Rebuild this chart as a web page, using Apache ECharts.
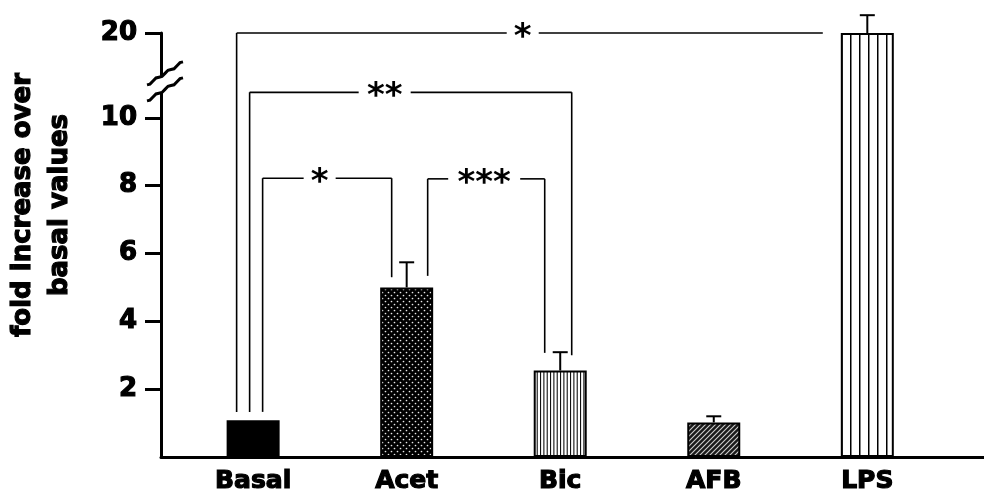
<!DOCTYPE html>
<html><head><meta charset="utf-8">
<script src="https://cdn.jsdelivr.net/npm/echarts@6/dist/echarts.min.js"></script>
<style>html,body{margin:0;padding:0;background:#fff}#c{width:984px;height:495px}</style>
</head><body><div id="c"></div>
<script>
// ---- data ----
const categories = ['Basal', 'Acet', 'Bic', 'AFB', 'LPS'];
const foldValues = [1.08, 5.0, 2.55, 1.02, 20];
const semValues  = [0, 0.74, 0.54, 0.18, 2.1];
const yTickValues = [2, 4, 6, 8, 10, 20];
// significance brackets: from category, to category, bracket level, label, left leg end, right leg end
const bracketFrom  = [0, 0, 0, 1];
const bracketTo    = [4, 2, 1, 2];
const bracketLevel = [20, 13.0, 8.22, 8.2];
const bracketLabel = ['*', '**', '*', '***'];
const bracketLeftEnd  = [1.33, 1.33, 1.33, 5.34];
const bracketRightEnd = [null, 3.0, 5.3, 3.07];

// broken axis: values above 10 compressed by factor 0.25 (20 sits at 12.5)
const BREAK_AT = 10, BREAK_FACTOR = 0.25;
function toDisplay(v) { return v <= BREAK_AT ? v : BREAK_AT + (v - BREAK_AT) * BREAK_FACTOR; }
function fromDisplay(d) { return d <= BREAK_AT ? d : BREAK_AT + (d - BREAK_AT) / BREAK_FACTOR; }

// ---- layout (pixel offsets of bracket legs relative to bar centres) ----
const bracketLayout = [
  { l: -16.5, r: -44.5, star: -7 },
  { l: -3.5, r: 11.5, star: -26 },
  { l: 9.5, r: -15, star: -7.5 },
  { l: 21, r: -15.5, star: -2 }
];

// ---- fill patterns ----
function makePattern(w, h, draw) {
  const c = document.createElement('canvas');
  c.width = w; c.height = h;
  const g = c.getContext('2d');
  draw(g, w, h);
  return { image: c, repeat: 'repeat' };
}
const patterns = [
  '#000',
  makePattern(6, 6, (g, w, h) => {
    g.fillStyle = '#000'; g.fillRect(0, 0, w, h);
    g.fillStyle = '#e8e8e8';
    g.beginPath(); g.arc(1.5, 1.5, 0.85, 0, Math.PI * 2); g.fill();
    g.beginPath(); g.arc(4.5, 4.5, 0.85, 0, Math.PI * 2); g.fill();
  }),
  makePattern(10, 4, (g, w, h) => {
    g.fillStyle = '#fff'; g.fillRect(0, 0, w, h);
    g.fillStyle = '#111';
    [0, 3.33, 6.67].forEach(x => g.fillRect(x, 0, 1.1, h));
  }),
  makePattern(5, 5, (g, w, h) => {
    g.fillStyle = '#1a1a1a'; g.fillRect(0, 0, w, h);
    g.strokeStyle = '#cfcfcf'; g.lineWidth = 1.1;
    g.beginPath();
    g.moveTo(-1, 6); g.lineTo(6, -1);
    g.moveTo(-1, 1); g.lineTo(1, -1);
    g.moveTo(4, 6); g.lineTo(6, 4);
    g.stroke();
  }),
  makePattern(9, 4, (g, w, h) => {
    g.fillStyle = '#fff'; g.fillRect(0, 0, w, h);
    g.fillStyle = '#000';
    g.fillRect(4, 0, 1.5, h);
  })
];

const chart = echarts.init(document.getElementById('c'), null, { renderer: 'canvas' });

const heavy = { textBorderColor: '#000', textBorderWidth: 1.2 };

const option = {
  animation: false,
  backgroundColor: '#fff',
  grid: { left: 161, right: 0, top: 33, bottom: 38, containLabel: false },
  xAxis: {
    type: 'value', min: -0.6, max: 4.76,
    splitLine: { show: false },
    axisLine: { show: true, onZero: false, lineStyle: { color: '#000', width: 3 } },
    axisTick: { show: false },
    axisLabel: Object.assign({
      customValues: categories.map((c, i) => i),
      formatter: v => categories[Math.round(v)] || '',
      color: '#000', fontFamily: 'DejaVu Sans', fontWeight: 'bold', fontSize: 25, margin: 12
    }, heavy)
  },
  yAxis: {
    type: 'value', min: 0, max: toDisplay(20),
    splitLine: { show: false },
    axisLine: { show: true, onZero: false, lineStyle: { color: '#000', width: 3 } },
    axisTick: { show: true, customValues: yTickValues.map(toDisplay), length: 16, lineStyle: { color: '#000', width: 3 } },
    axisLabel: Object.assign({
      customValues: yTickValues.map(toDisplay),
      formatter: v => String(Math.round(fromDisplay(v))),
      color: '#000', fontFamily: 'DejaVu Sans', fontWeight: 'bold', fontSize: 26, margin: 24
    }, heavy)
  },
  graphic: [{
    type: 'text', x: 42, y: 205, rotation: Math.PI / 2,
    style: {
      text: 'fold increase over\nbasal values',
      font: 'bold 26px "DejaVu Sans"', align: 'center', verticalAlign: 'middle',
      lineHeight: 37, fill: '#000', stroke: '#000', lineWidth: 1.2
    }
  }],
  series: [
    {
      type: 'bar', barWidth: 53, z: 2,
      itemStyle: { borderColor: '#000', borderWidth: 2 },
      data: foldValues.map((v, i) => ({ value: [i, toDisplay(v)], itemStyle: { color: patterns[i] } }))
    },
    {
      type: 'custom', z: 3, clip: false,
      data: foldValues.map((v, i) => [i, toDisplay(v), toDisplay(v + semValues[i]), semValues[i]]),
      renderItem: (params, api) => {
        if (!api.value(3)) return null;
        const base = api.coord([api.value(0), api.value(1)]);
        const top = api.coord([api.value(0), api.value(2)]);
        const st = { stroke: '#000', lineWidth: 2 };
        return {
          type: 'group', children: [
            { type: 'line', shape: { x1: base[0], y1: base[1], x2: top[0], y2: top[1] }, style: st },
            { type: 'line', shape: { x1: top[0] - 7.5, y1: top[1], x2: top[0] + 7.5, y2: top[1] }, style: st }
          ]
        };
      }
    },
    {
      type: 'custom', z: 4, clip: false,
      data: bracketFrom.map((f, i) => [f, toDisplay(bracketLevel[i]), bracketTo[i], i]),
      renderItem: (params, api) => {
        const i = params.dataIndex, L = bracketLayout[i];
        const y = api.coord([0, toDisplay(bracketLevel[i])])[1];
        const xl = api.coord([bracketFrom[i], 0])[0] + L.l;
        const xr = api.coord([bracketTo[i], 0])[0] + L.r;
        const xm = (xl + xr) / 2 + L.star;
        const gap = bracketLabel[i].length * 10 + 6;
        const st = { stroke: '#000', lineWidth: 1.6 };
        const ch = [
          { type: 'line', shape: { x1: xl, y1: y, x2: xm - gap, y2: y }, style: st },
          { type: 'line', shape: { x1: xm + gap, y1: y, x2: xr, y2: y }, style: st },
          { type: 'text', style: { text: bracketLabel[i], x: xm, y: y + 5, font: 'bold 34px "DejaVu Sans"',
              align: 'center', verticalAlign: 'middle', textAlign: 'center', textVerticalAlign: 'middle',
              fill: '#000' } }
        ];
        if (bracketLeftEnd[i] != null) {
          const ye = api.coord([0, toDisplay(bracketLeftEnd[i])])[1];
          ch.push({ type: 'line', shape: { x1: xl, y1: y, x2: xl, y2: ye }, style: st });
        }
        if (bracketRightEnd[i] != null) {
          const ye = api.coord([0, toDisplay(bracketRightEnd[i])])[1];
          ch.push({ type: 'line', shape: { x1: xr, y1: y, x2: xr, y2: ye }, style: st });
        }
        return { type: 'group', children: ch };
      }
    },
    {
      // axis break marks
      type: 'custom', z: 5, clip: false,
      data: [[-0.6, toDisplay(14)]],
      renderItem: (params, api) => {
        const c = api.coord([api.value(0), api.value(1)]);
        const wave = (cy) => {
          const pts = [];
          for (let k = 0; k <= 12; k++) {
            const t = k / 12;
            const x = c[0] - 14 + 36 * t;
            const yy = cy + 9 - 23 * t + Math.sin(t * Math.PI * 6) * 1.2;
            pts.push([x, yy]);
          }
          return { type: 'polyline', shape: { points: pts }, style: { stroke: '#000', lineWidth: 3, fill: null } };
        };
        return {
          type: 'group', children: [
            { type: 'rect', shape: { x: c[0] - 3, y: c[1] - 8, width: 6, height: 16 }, style: { fill: '#fff' } },
            wave(c[1] - 8),
            wave(c[1] + 8)
          ]
        };
      }
    }
  ]
};
chart.setOption(option);
</script>
</body></html>
